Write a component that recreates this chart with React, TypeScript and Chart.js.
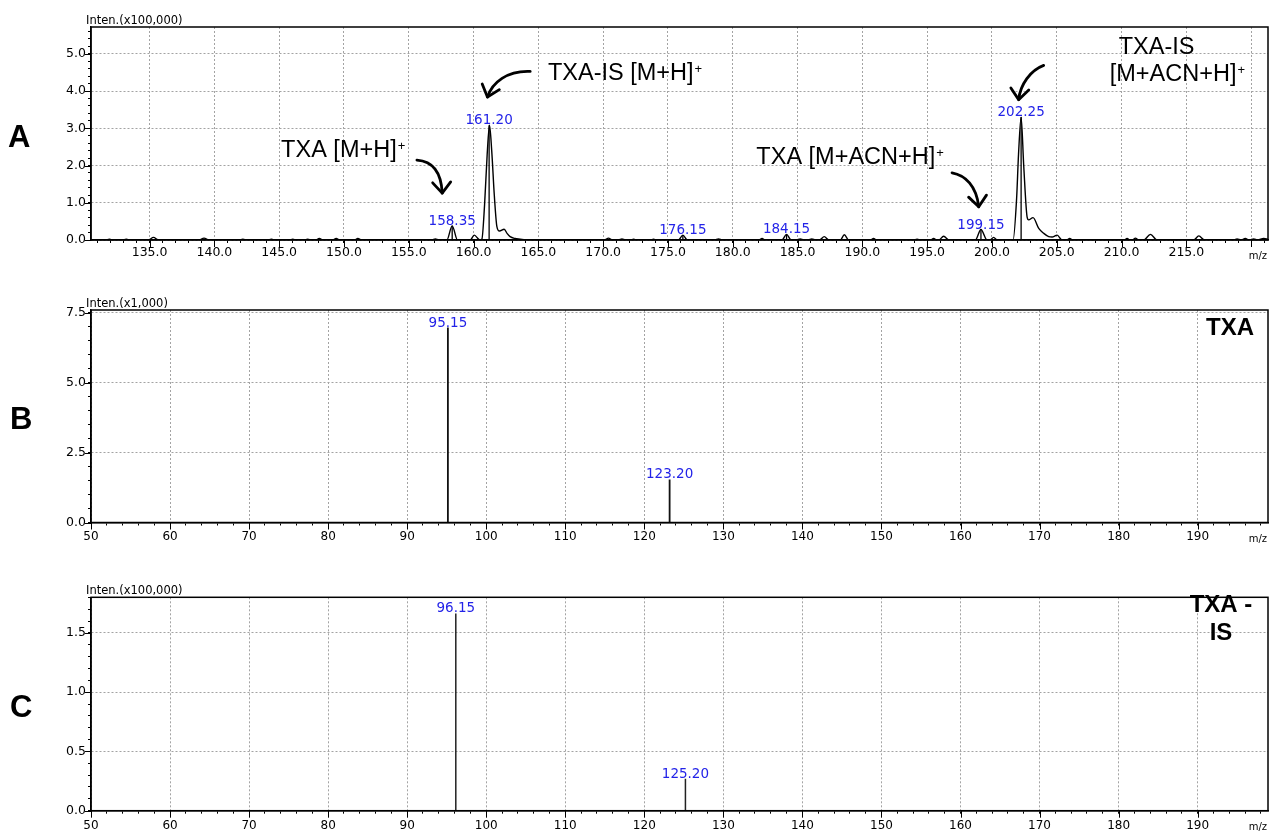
import React, { useEffect, useRef } from 'react';
import { Chart, registerables } from 'chart.js';

Chart.register(...registerables);

// ---------- Panel A: full-scan profile (Inten. x100,000) ----------
const profileMzA = [
  130.5, 131.6, 131.9, 132.2, 132.9, 133.2, 133.5, 134.9, 135.3, 135.7,
  138.8, 139.2, 139.6, 141.9, 142.2, 142.5, 144.1, 144.4, 144.7, 145.8,
  146.05, 146.3, 146.9, 147.2, 147.5, 147.8, 148.1, 148.4, 149.1, 149.4,
  149.7, 150.8, 151.07, 151.4, 156.8, 157.05, 157.3, 157.94, 158.35, 158.76,
  159.74, 160.05, 160.5, 160.64, 160.85, 161.05, 161.23, 161.4, 161.6, 161.8,
  162.0, 162.36, 162.6, 162.82, 163.2, 163.6, 164.0, 165.2, 165.4, 165.6,
  165.95, 166.17, 166.4, 168.15, 168.36, 168.6, 168.9, 169.13, 169.35, 170.1,
  170.41, 170.7, 171.2, 171.45, 171.7, 172.1, 172.35, 172.6, 173.65, 173.89,
  174.1, 175.8, 176.15, 176.5, 178.6, 178.9, 179.2, 182.0, 182.26, 182.5,
  183.8, 184.15, 184.5, 184.9, 185.2, 185.5, 185.8, 186.1, 186.4, 186.7,
  187.06, 187.4, 188.3, 188.61, 188.94, 190.6, 190.87, 191.1, 193.95, 194.22,
  194.5, 195.25, 195.5, 195.75, 195.9, 196.27, 196.7, 198.72, 199.15, 199.62,
  199.85, 200.13, 200.4, 201.63, 201.9, 202.05, 202.25, 202.45, 202.71, 202.83,
  203.17, 203.61, 203.99, 204.38, 204.64, 205.03, 205.41, 205.75, 206.0, 206.25,
  207.0, 207.2, 207.4, 210.2, 210.43, 210.65, 210.85, 211.07, 211.3, 211.7,
  212.23, 212.75, 215.57, 215.96, 216.4, 218.7, 218.91, 219.2, 219.55, 219.85,
  220.2, 220.5, 220.97, 221.3,
];
const profileIntA = [
  0, 0, 0.02, 0, 0, 0.02, 0, 0, 0.07, 0,
  0, 0.05, 0, 0, 0.02, 0, 0, 0.02, 0, 0,
  0.02, 0, 0, 0.02, 0, 0, 0.04, 0, 0, 0.04,
  0, 0, 0.04, 0, 0, 0.03, 0, 0, 0.38, 0,
  0, 0.13, 0, 0.02, 0.95, 2.3, 3.08, 2.4, 1.2, 0.36,
  0.24, 0.29, 0.17, 0.09, 0.04, 0.02, 0, 0, 0.01, 0,
  0, 0.01, 0, 0, 0.01, 0, 0, 0.01, 0, 0,
  0.05, 0, 0, 0.03, 0, 0, 0.02, 0, 0, 0.02,
  0, 0, 0.13, 0, 0, 0.03, 0, 0, 0.04, 0,
  0, 0.15, 0, 0, 0.03, 0, 0, 0.03, 0, 0,
  0.09, 0, 0, 0.14, 0, 0, 0.04, 0, 0, 0.02,
  0, 0, 0.04, 0, 0, 0.1, 0, 0, 0.28, 0,
  0, 0.07, 0, 0, 1.1, 2.3, 3.3, 2.0, 0.62, 0.54,
  0.6, 0.31, 0.18, 0.09, 0.08, 0.13, 0, 0, 0.04, 0,
  0, 0.01, 0, 0, 0.04, 0, 0, 0.05, 0, 0,
  0.15, 0, 0, 0.11, 0, 0, 0.03, 0, 0.04, 0,
  0.03, 0, 0.04, 0.02,
];
const peakMzA = [158.35, 161.2, 176.15, 184.15, 199.15, 202.25];
const peakIntA = [0.38, 3.08, 0.13, 0.15, 0.28, 3.3];
const peakLabelA = ['158.35', '161.20', '176.15', '184.15', '199.15', '202.25'];

// annotations of panel A (data coordinates)
const annotTextA = ['TXA [M+H]', 'TXA-IS [M+H]', 'TXA [M+ACN+H]', 'TXA-IS', '[M+ACN+H]'];
const annotSupA = ['+', '+', '+', '', '+'];
const annotXA = [145.15, 165.74, 181.82, 209.78, 209.09];
const annotYA = [2.22, 4.31, 2.03, 5.0, 4.26];
// cubic arrows: start, control1, control2, tip (x,y pairs in data units)
const arrowsA = [
  [155.63, 2.143, 156.81, 2.116, 157.5, 1.822, 157.58, 1.259],
  [164.37, 4.527, 162.6, 4.554, 161.44, 4.233, 161.07, 3.839],
  [196.92, 1.803, 197.95, 1.741, 198.8, 1.447, 198.98, 0.892],
  [203.99, 4.688, 202.97, 4.554, 202.19, 4.179, 202.06, 3.769],
];

// ---------- Panel B: TXA product ions (Inten. x1,000) ----------
const stickMzB = [95.15, 123.2];
const stickIntB = [6.97, 1.54];
const stickLabelB = ['95.15', '123.20'];

// ---------- Panel C: TXA-IS product ions (Inten. x100,000) ----------
const stickMzC = [96.15, 125.2];
const stickIntC = [1.664, 0.27];
const stickLabelC = ['96.15', '125.20'];

const FONT_TICK = '"DejaVu Sans", sans-serif';
const FONT_ANN = '"Liberation Sans", Arial, sans-serif';
const GRID = '#a3a3a3';
const BLUE = '#2323e8';

function isMajor(v: number, step: number) {
  const r = v / step;
  return Math.abs(r - Math.round(r)) < 1e-6;
}

interface Panel {
  top: number; height: number; padTop: number; xAxisH: number; xLabelPad: number;
  xMin: number; xMax: number; xMinor: number; xMajor: number; xDec: number; xFont: number; xLabelMax: number;
  yMax: number; yMinor: number; yMajor: number;
  letter: string; letterX: number; letterY: number;
  unit: string;
  datasets: any[];
  peaks: { mz: number[]; inten: number[]; labels: string[] };
  texts?: { text: string[]; sup: string[]; x: number[]; y: number[] };
  arrows?: number[][];
  corner?: { lines: string[]; dx: number; y0: number; lh: number };
}

function decor(p: Panel) {
  return {
    id: 'decor',
    beforeDraw(chart: any) {
      const { ctx, width, height } = chart;
      ctx.save();
      ctx.fillStyle = '#fff';
      ctx.fillRect(0, 0, width, height);
      ctx.restore();
    },
    afterDraw(chart: any) {
      const { ctx, chartArea: ca } = chart;
      const xs = chart.scales.x;
      const ys = chart.scales.y;
      ctx.save();
      // frame
      ctx.strokeStyle = '#000';
      ctx.lineWidth = 1.5;
      ctx.strokeRect(ca.left, ca.top, ca.right - ca.left, ca.bottom - ca.top);
      // longer major ticks
      ctx.lineWidth = 1;
      ctx.beginPath();
      xs.ticks.forEach((t: any) => {
        if (isMajor(t.value, p.xMajor)) {
          const px = Math.round(xs.getPixelForValue(t.value)) + 0.5;
          ctx.moveTo(px, ca.bottom);
          ctx.lineTo(px, ca.bottom + 7);
        }
      });
      ys.ticks.forEach((t: any) => {
        if (isMajor(t.value, p.yMajor)) {
          const py = Math.round(ys.getPixelForValue(t.value)) + 0.5;
          ctx.moveTo(ca.left - 6, py);
          ctx.lineTo(ca.left, py);
        }
      });
      ctx.stroke();

      // peak labels
      ctx.font = `13.5px ${FONT_TICK}`;
      ctx.fillStyle = BLUE;
      ctx.textAlign = 'center';
      ctx.textBaseline = 'alphabetic';
      p.peaks.mz.forEach((m, i) => {
        ctx.fillText(p.peaks.labels[i], xs.getPixelForValue(m), ys.getPixelForValue(p.peaks.inten[i]) - 1);
      });

      // unit label and m/z
      ctx.fillStyle = '#000';
      ctx.textAlign = 'left';
      ctx.font = `11.5px ${FONT_TICK}`;
      ctx.fillText(p.unit, ca.left - 5, ca.top - 3);
      ctx.textAlign = 'right';
      ctx.font = `10px ${FONT_TICK}`;
      ctx.fillText('m/z', ca.right - 1, ca.bottom + 19);

      // panel letter
      ctx.textAlign = 'left';
      ctx.font = `bold 31px ${FONT_ANN}`;
      ctx.fillText(p.letter, p.letterX, p.letterY);

      // annotation texts
      if (p.texts) {
        const t = p.texts;
        t.text.forEach((s, i) => {
          const x = xs.getPixelForValue(t.x[i]);
          const y = ys.getPixelForValue(t.y[i]);
          ctx.font = `23.5px ${FONT_ANN}`;
          ctx.textAlign = 'left';
          ctx.fillText(s, x, y);
          if (t.sup[i]) {
            const w = ctx.measureText(s).width;
            ctx.font = `13px ${FONT_ANN}`;
            ctx.fillText(t.sup[i], x + w + 1, y - 7);
          }
        });
      }
      // arrows
      if (p.arrows) {
        ctx.strokeStyle = '#000';
        ctx.lineWidth = 2.8;
        ctx.lineCap = 'round';
        ctx.lineJoin = 'round';
        p.arrows.forEach((a) => {
          const P = [0, 1, 2, 3].map((k) => [xs.getPixelForValue(a[2 * k]), ys.getPixelForValue(a[2 * k + 1])]);
          ctx.beginPath();
          ctx.moveTo(P[0][0], P[0][1]);
          ctx.bezierCurveTo(P[1][0], P[1][1], P[2][0], P[2][1], P[3][0], P[3][1]);
          ctx.stroke();
          const ang = Math.atan2(P[3][1] - P[2][1], P[3][0] - P[2][0]);
          const L = 14;
          const sp = (40 * Math.PI) / 180;
          ctx.beginPath();
          ctx.moveTo(P[3][0] - L * Math.cos(ang - sp), P[3][1] - L * Math.sin(ang - sp));
          ctx.lineTo(P[3][0], P[3][1]);
          ctx.lineTo(P[3][0] - L * Math.cos(ang + sp), P[3][1] - L * Math.sin(ang + sp));
          ctx.stroke();
        });
      }
      // corner label
      if (p.corner) {
        ctx.font = `bold 24px ${FONT_ANN}`;
        ctx.textAlign = 'center';
        ctx.fillStyle = '#000';
        p.corner.lines.forEach((s, i) => {
          ctx.fillText(s, ca.right - p.corner!.dx, ca.top + p.corner!.y0 + i * p.corner!.lh);
        });
      }
      ctx.restore();
    },
  };
}

function stickSets(mz: number[], inten: number[], color: string, width: number) {
  return mz.map((m, i) => ({
    data: [{ x: m, y: 0 }, { x: m, y: inten[i] }],
    borderColor: color,
    borderWidth: width,
    pointRadius: 0,
    fill: false,
  }));
}

function buildConfig(p: Panel): any {
  const gridColor = (step: number) => (c: any) =>
    c.tick && isMajor(c.tick.value, step) ? GRID : 'rgba(0,0,0,0)';
  return {
    type: 'line',
    data: { datasets: p.datasets },
    plugins: [decor(p)],
    options: {
      animation: false,
      responsive: false,
      maintainAspectRatio: false,
      events: [],
      layout: { autoPadding: false, padding: { left: 46, right: 9, top: p.padTop, bottom: 0 } },
      plugins: { legend: { display: false }, tooltip: { enabled: false } },
      scales: {
        x: {
          type: 'linear',
          min: p.xMin,
          max: p.xMax,
          offset: false,
          afterFit: (s: any) => { s.height = p.xAxisH; },
          grid: { color: gridColor(p.xMajor), tickColor: '#000', tickLength: 3, lineWidth: 1, offset: false },
          border: { display: true, color: '#000', width: 1.5, dash: [2, 2] },
          ticks: {
            stepSize: p.xMinor,
            autoSkip: false,
            includeBounds: false,
            maxRotation: 0,
            minRotation: 0,
            padding: p.xLabelPad,
            color: '#000',
            font: { family: 'DejaVu Sans', size: p.xFont },
            callback: (v: number) => (isMajor(v, p.xMajor) && v <= p.xLabelMax ? v.toFixed(p.xDec) : ''),
          },
        },
        y: {
          type: 'linear',
          min: 0,
          max: p.yMax,
          afterFit: (s: any) => { s.width = 45; },
          grid: { color: gridColor(p.yMajor), tickColor: '#000', tickLength: 3, lineWidth: 1 },
          border: { display: true, color: '#000', width: 1.5, dash: [2, 2] },
          ticks: {
            stepSize: p.yMinor,
            autoSkip: false,
            includeBounds: false,
            padding: 2,
            color: '#000',
            font: { family: 'DejaVu Sans', size: 12.5 },
            callback: (v: number) => (isMajor(v, p.yMajor) ? v.toFixed(1) : ''),
          },
        },
      },
    },
  };
}

const panelA: Panel = {
  top: 0, height: 275, padTop: 27, xAxisH: 35, xLabelPad: 2,
  xMin: 130.48, xMax: 221.3, xMinor: 1, xMajor: 5, xDec: 1, xFont: 12.5, xLabelMax: 215,
  yMax: 5.72, yMinor: 0.2, yMajor: 1,
  letter: 'A', letterX: 8, letterY: 147,
  unit: 'Inten.(x100,000)',
  datasets: [
    {
      data: profileMzA.map((m, i) => ({ x: m, y: profileIntA[i] })),
      borderColor: '#000',
      borderWidth: 1.4,
      pointRadius: 0,
      cubicInterpolationMode: 'monotone',
      fill: false,
    },
    ...stickSets(peakMzA, peakIntA, '#000', 1.3),
  ],
  peaks: { mz: peakMzA, inten: peakIntA, labels: peakLabelA },
  texts: { text: annotTextA, sup: annotSupA, x: annotXA, y: annotYA },
  arrows: arrowsA,
};

const panelB: Panel = {
  top: 290, height: 265, padTop: 20, xAxisH: 32.5, xLabelPad: 4.5,
  xMin: 50, xMax: 198.9, xMinor: 2, xMajor: 10, xDec: 0, xFont: 12, xLabelMax: 190,
  yMax: 7.6, yMinor: 0.5, yMajor: 2.5,
  letter: 'B', letterX: 10, letterY: 139,
  unit: 'Inten.(x1,000)',
  datasets: stickSets(stickMzB, stickIntB, '#111', 1.8),
  peaks: { mz: stickMzB, inten: stickIntB, labels: stickLabelB },
  corner: { lines: ['TXA'], dx: 38, y0: 25, lh: 28 },
};

const panelC: Panel = {
  top: 575, height: 261, padTop: 22.3, xAxisH: 25.3, xLabelPad: 4.5,
  xMin: 50, xMax: 198.9, xMinor: 2, xMajor: 10, xDec: 0, xFont: 12, xLabelMax: 190,
  yMax: 1.8, yMinor: 0.1, yMajor: 0.5,
  letter: 'C', letterX: 10, letterY: 142,
  unit: 'Inten.(x100,000)',
  datasets: stickSets(stickMzC, stickIntC, '#222', 1.5),
  peaks: { mz: stickMzC, inten: stickIntC, labels: stickLabelC },
  corner: { lines: ['TXA -', 'IS'], dx: 47, y0: 14.7, lh: 28 },
};

const PANELS = [panelA, panelB, panelC];

export default function App() {
  const refs = [useRef<HTMLCanvasElement>(null), useRef<HTMLCanvasElement>(null), useRef<HTMLCanvasElement>(null)];
  useEffect(() => {
    const charts = PANELS.map((p, i) => new Chart(refs[i].current as HTMLCanvasElement, buildConfig(p)));
    return () => charts.forEach((c) => c.destroy());
  }, []);
  return (
    <div style={{ position: 'fixed', left: 0, top: 0, width: 1277, height: 836, background: '#fff', overflow: 'hidden' }}>
      {PANELS.map((p, i) => (
        <canvas
          key={i}
          ref={refs[i]}
          width={1277}
          height={p.height}
          style={{ position: 'absolute', left: 0, top: p.top, width: 1277, height: p.height }}
        />
      ))}
    </div>
  );
}
